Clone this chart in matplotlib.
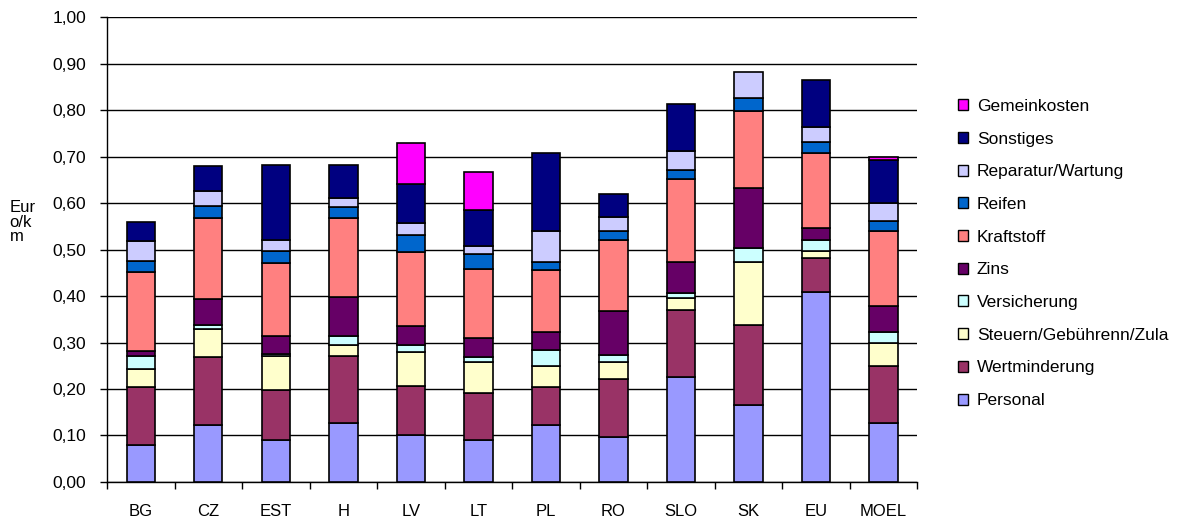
"""
plot.py - stacked bar chart of vehicle operating costs (Euro/km) by country.
"""

import numpy as np
import matplotlib
matplotlib.use("Agg")
import matplotlib.pyplot as plt
import matplotlib.patches as mpatches

plt.rcParams["font.family"] = ["Liberation Sans", "DejaVu Sans"]

countries = ["BG", "CZ", "EST", "H", "LV", "LT", "PL", "RO", "SLO", "SK", "EU", "MOEL"]

# cost components, bottom to top (Euro/km)
personal      = [0.080, 0.123, 0.090, 0.126, 0.100, 0.090, 0.123, 0.096, 0.226, 0.166, 0.409, 0.126]
wertminderung = [0.124, 0.145, 0.107, 0.144, 0.106, 0.102, 0.081, 0.125, 0.143, 0.172, 0.073, 0.123]
steuern       = [0.040, 0.060, 0.073, 0.024, 0.074, 0.065, 0.045, 0.036, 0.027, 0.135, 0.014, 0.051]
versicherung  = [0.026, 0.010, 0.005, 0.019, 0.015, 0.011, 0.035, 0.017, 0.011, 0.031, 0.024, 0.022]
zins          = [0.011, 0.056, 0.040, 0.084, 0.041, 0.041, 0.038, 0.093, 0.066, 0.129, 0.027, 0.056]
kraftstoff    = [0.170, 0.174, 0.155, 0.171, 0.159, 0.149, 0.135, 0.153, 0.178, 0.165, 0.160, 0.161]
reifen        = [0.024, 0.025, 0.027, 0.024, 0.036, 0.032, 0.016, 0.019, 0.021, 0.027, 0.024, 0.022]
reparatur     = [0.043, 0.032, 0.023, 0.019, 0.026, 0.018, 0.066, 0.031, 0.040, 0.057, 0.033, 0.038]
sonstiges     = [0.042, 0.055, 0.162, 0.070, 0.084, 0.077, 0.168, 0.049, 0.100, 0.000, 0.100, 0.094]
gemeinkosten  = [0.000, 0.000, 0.000, 0.000, 0.088, 0.081, 0.000, 0.000, 0.000, 0.000, 0.000, 0.007]

series = [
    ("Personal", personal, "#9999FF"),
    ("Wertminderung", wertminderung, "#993366"),
    ("Steuern/Gebührenn/Zula", steuern, "#FFFFCC"),
    ("Versicherung", versicherung, "#CCFFFF"),
    ("Zins", zins, "#660066"),
    ("Kraftstoff", kraftstoff, "#FF8080"),
    ("Reifen", reifen, "#0066CC"),
    ("Reparatur/Wartung", reparatur, "#CCCCFF"),
    ("Sonstiges", sonstiges, "#000080"),
    ("Gemeinkosten", gemeinkosten, "#FF00FF"),
]


def main():
    fig = plt.figure(figsize=(11.9, 5.19), dpi=100)
    ax = fig.add_axes([0.0899, 0.0713, 0.681, 0.8959])

    x = np.arange(len(countries))
    bottom = np.zeros(len(countries))
    handles = []
    for name, vals, color in series:
        vals = np.array(vals)
        mask = vals > 0
        ax.bar(x[mask], vals[mask], bottom=bottom[mask], width=0.42,
               color=color, edgecolor="black", linewidth=1.2, zorder=3)
        bottom += vals
        handles.append(mpatches.Patch(facecolor=color, edgecolor="black",
                                      linewidth=1.0, label=name))

    ax.set_xlim(-0.5, len(countries) - 0.5)
    ax.set_ylim(0, 1.0)
    yt = np.arange(0, 1.01, 0.1)
    ax.set_yticks(yt)
    ax.set_yticklabels([f"{v:.2f}".replace(".", ",") for v in yt], fontsize=12.5)
    ax.yaxis.grid(True, color="black", linewidth=1.0, zorder=0)
    ax.set_axisbelow(True)

    # category labels at centers, tick marks at boundaries
    ax.set_xticks(x)
    ax.set_xticklabels(countries, fontsize=12)
    ax.tick_params(axis="x", length=0, pad=16)
    ax.set_xticks(np.arange(-0.5, len(countries) + 0.5, 1), minor=True)
    ax.tick_params(axis="x", which="minor", length=5, width=1, direction="out")
    ax.tick_params(axis="y", length=5, width=1, direction="out", pad=10)

    for s in ["top", "right"]:
        ax.spines[s].set_visible(False)
    ax.spines["left"].set_linewidth(1.0)
    ax.spines["bottom"].set_linewidth(1.0)

    fig.text(0.008, 0.572, "Eur\no/k\nm", fontsize=12, ha="left", va="center",
             linespacing=0.95)

    fig.legend(handles=handles[::-1], loc="upper left",
               bbox_to_anchor=(0.799, 0.823), frameon=False, fontsize=12.5,
               handlelength=0.6, handleheight=0.6, handletextpad=0.5,
               labelspacing=1.02, borderaxespad=0)

    fig.savefig("out.png", dpi=100)


if __name__ == "__main__":
    main()
